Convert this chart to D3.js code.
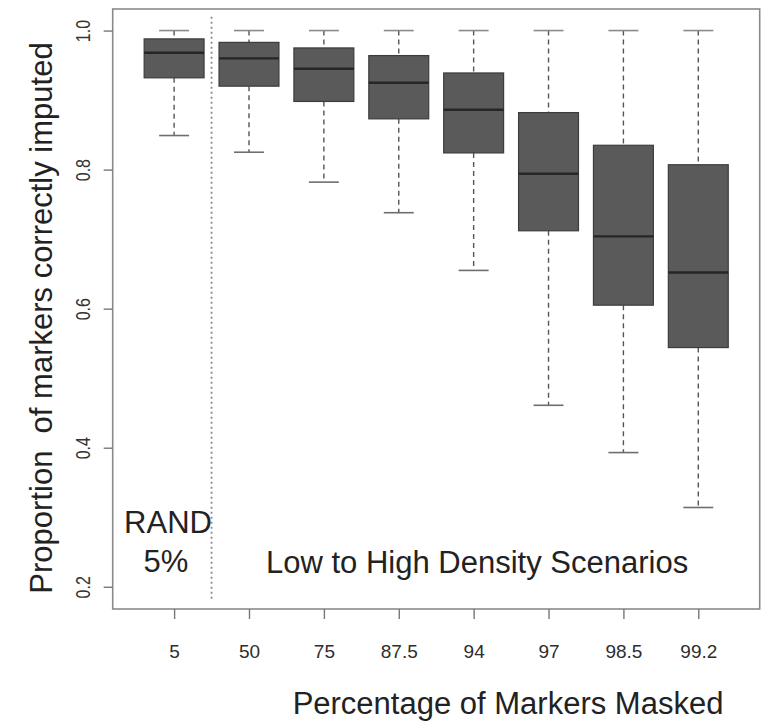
<!DOCTYPE html>
<html>
<head>
<meta charset="utf-8">
<script src="https://cdn.jsdelivr.net/npm/d3@7"></script>
<style>
  html, body { margin: 0; padding: 0; background: #fff; }
  svg { display: block; font-family: "Liberation Sans", Arial, Helvetica, sans-serif; }
</style>
</head>
<body>
<svg id="chart" width="767" height="721"></svg>
<script>
// ---- data ----
const categories   = ["5", "50", "75", "87.5", "94", "97", "98.5", "99.2"];
const whiskerHigh  = [1.000, 1.000, 1.000, 1.000, 1.000, 1.000, 1.000, 1.000];
const q3           = [0.988, 0.983, 0.975, 0.964, 0.939, 0.882, 0.835, 0.807];
const medians      = [0.968, 0.960, 0.945, 0.925, 0.886, 0.794, 0.704, 0.652];
const q1           = [0.932, 0.920, 0.898, 0.873, 0.824, 0.712, 0.605, 0.544];
const whiskerLow   = [0.849, 0.825, 0.782, 0.738, 0.655, 0.461, 0.393, 0.314];
const yTicks       = [0.2, 0.4, 0.6, 0.8, 1.0];
const xTitle = "Percentage of Markers Masked";
const yTitle = "Proportion  of markers correctly imputed";
const noteRand = ["RAND", "5%"];
const noteScen = "Low to High Density Scenarios";
const separatorAt = 1.5;

const boxes = categories.map((c, i) => ({
  pos: i + 1, cat: c, hi: whiskerHigh[i], q3: q3[i], med: medians[i], q1: q1[i], lo: whiskerLow[i]
}));

// ---- layout ----
const plotLeft = 112.7, plotRight = 759.7, plotTop = 9, plotBottom = 609;
const svg = d3.select("#chart");

const x = d3.scaleLinear().domain([0.18, 8.82]).range([plotLeft, plotRight]);
const y = d3.scaleLinear().domain([0.168, 1.031]).range([plotBottom, plotTop]);

const boxHalf = 0.4, stapleHalf = 0.2;

// separator dotted line
svg.append("line")
  .attr("x1", x(separatorAt)).attr("x2", x(separatorAt))
  .attr("y1", y(1.02)).attr("y2", y(0.181))
  .attr("stroke", "#8c8c8c").attr("stroke-width", 1.8)
  .attr("stroke-dasharray", "2,3");

const g = svg.append("g");
const b = g.selectAll("g.box").data(boxes).join("g").attr("class", "box");

// whiskers (dashed)
b.append("line")
  .attr("x1", d => x(d.pos)).attr("x2", d => x(d.pos))
  .attr("y1", d => y(d.hi)).attr("y2", d => y(d.q3))
  .attr("stroke", "#555").attr("stroke-width", 1.4).attr("stroke-dasharray", "5,4");
b.append("line")
  .attr("x1", d => x(d.pos)).attr("x2", d => x(d.pos))
  .attr("y1", d => y(d.q1)).attr("y2", d => y(d.lo))
  .attr("stroke", "#555").attr("stroke-width", 1.4).attr("stroke-dasharray", "5,4");

// staples
b.append("line")
  .attr("x1", d => x(d.pos - stapleHalf)).attr("x2", d => x(d.pos + stapleHalf))
  .attr("y1", d => y(d.hi)).attr("y2", d => y(d.hi))
  .attr("stroke", "#8a8a8a").attr("stroke-width", 1.6);
b.append("line")
  .attr("x1", d => x(d.pos - stapleHalf)).attr("x2", d => x(d.pos + stapleHalf))
  .attr("y1", d => y(d.lo)).attr("y2", d => y(d.lo))
  .attr("stroke", "#6e6e6e").attr("stroke-width", 1.6);

// boxes
b.append("rect")
  .attr("x", d => x(d.pos - boxHalf))
  .attr("width", d => x(d.pos + boxHalf) - x(d.pos - boxHalf))
  .attr("y", d => y(d.q3))
  .attr("height", d => y(d.q1) - y(d.q3))
  .attr("fill", "#5a5a5a").attr("stroke", "#3c3c3c").attr("stroke-width", 1.2);

// medians
b.append("line")
  .attr("x1", d => x(d.pos - boxHalf)).attr("x2", d => x(d.pos + boxHalf))
  .attr("y1", d => y(d.med)).attr("y2", d => y(d.med))
  .attr("stroke", "#262626").attr("stroke-width", 2.4);

// frame
svg.append("rect")
  .attr("x", plotLeft).attr("y", plotTop)
  .attr("width", plotRight - plotLeft).attr("height", plotBottom - plotTop)
  .attr("fill", "none").attr("stroke", "#8a8a8a").attr("stroke-width", 1.6);

// y axis
const yAxis = svg.append("g")
  .attr("transform", `translate(${plotLeft},0)`)
  .call(d3.axisLeft(y).tickValues(yTicks).tickFormat(d3.format(".1f")).tickSize(9));
yAxis.select(".domain").remove();
yAxis.selectAll(".tick line").attr("stroke", "#777").attr("stroke-width", 1.4);
yAxis.selectAll(".tick text")
  .attr("x", null).attr("dy", "0.35em")
  .attr("transform", "translate(-30,0) rotate(-90) scale(1,1.25)")
  .attr("text-anchor", "middle")
  .attr("font-size", 16).attr("fill", "#333");

// x axis
const xAxis = svg.append("g")
  .attr("transform", `translate(0,${plotBottom})`)
  .call(d3.axisBottom(x).tickValues(boxes.map(d => d.pos))
        .tickFormat(p => categories[p - 1]).tickSize(10));
xAxis.select(".domain").remove();
xAxis.selectAll(".tick line").attr("stroke", "#777").attr("stroke-width", 1.4);
xAxis.selectAll(".tick text")
  .attr("y", 49).attr("dy", null)
  .attr("font-size", 19).attr("fill", "#2e2e2e");

// titles
svg.append("text")
  .attr("x", 508).attr("y", 714)
  .attr("text-anchor", "middle")
  .attr("font-size", 31).attr("fill", "#222")
  .text(xTitle);
svg.append("text")
  .attr("transform", "translate(52,318) rotate(-90)")
  .attr("text-anchor", "middle")
  .attr("font-size", 31).attr("fill", "#222")
  .style("white-space", "pre")
  .text(yTitle);

// annotations
svg.append("text")
  .attr("x", 168).attr("y", 533).attr("text-anchor", "middle")
  .attr("font-size", 31).attr("fill", "#222").text(noteRand[0]);
svg.append("text")
  .attr("x", 166).attr("y", 572).attr("text-anchor", "middle")
  .attr("font-size", 31).attr("fill", "#222").text(noteRand[1]);
svg.append("text")
  .attr("x", 266).attr("y", 573).attr("text-anchor", "start")
  .attr("font-size", 31).attr("fill", "#222").text(noteScen);
</script>
</body>
</html>
